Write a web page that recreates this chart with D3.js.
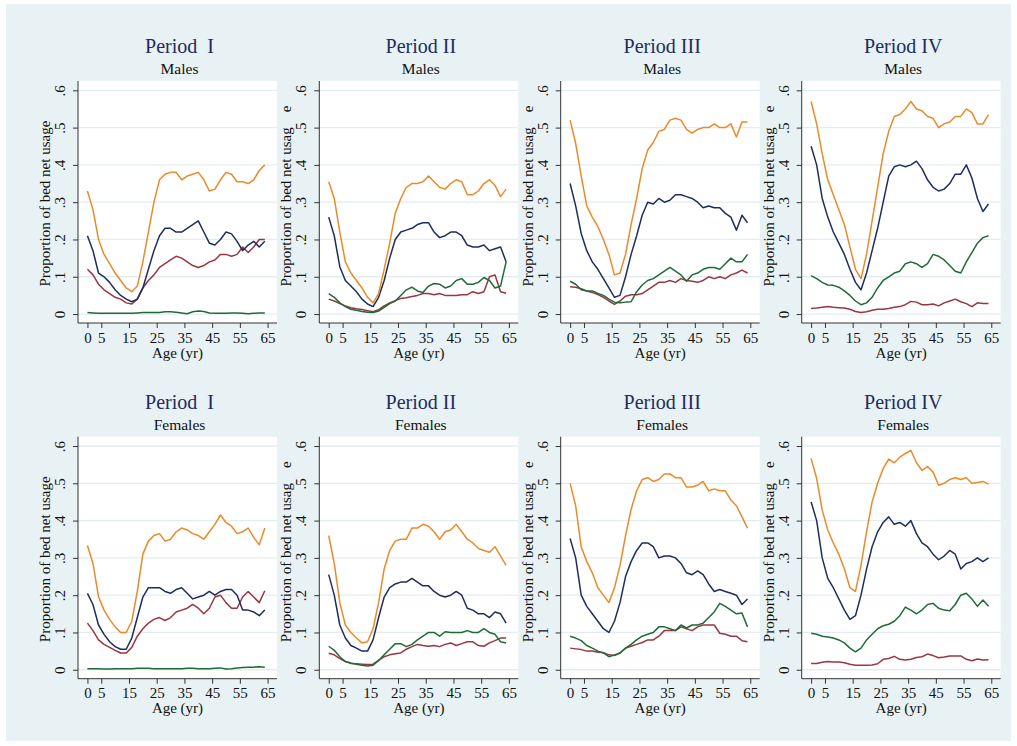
<!DOCTYPE html>
<html><head><meta charset="utf-8">
<script src="https://cdn.jsdelivr.net/npm/d3@7"></script>
<style>
body{margin:0;background:#fff}
svg{display:block}
</style>
</head><body>
<svg id="c" width="1017" height="746"></svg>
<script>
// ---------- data ----------
const ages = [0,2,4,6,8,10,12,14,16,18,20,22,24,26,28,30,32,34,36,38,40,42,44,46,48,50,52,54,56,58,60,62,64];
const xTicks = [0,5,15,25,35,45,55,65];
const yTicks = [0,0.1,0.2,0.3,0.4,0.5,0.6];
const yTickLabels = ["0",".1",".2",".3",".4",".5",".6"];
const periodTitles = ["Period  I","Period II","Period III","Period IV"];
const sexTitles = ["Males","Females"];
const yTitleFull = "Proportion of bed net usage";
const yTitleCut = "Proportion of bed net usag";
const xTitle = "Age (yr)";

// Males
const m1Orange = [.33,.28,.20,.16,.135,.11,.09,.07,.06,.075,.14,.22,.30,.36,.375,.38,.38,.36,.37,.375,.38,.36,.33,.335,.36,.38,.375,.355,.355,.35,.36,.385,.40];
const m1Navy   = [.21,.17,.11,.10,.085,.065,.05,.04,.033,.04,.07,.12,.17,.21,.23,.23,.22,.22,.23,.24,.25,.22,.19,.185,.20,.22,.215,.195,.17,.185,.195,.18,.195];
const m1Maroon = [.12,.105,.08,.065,.055,.045,.04,.03,.027,.04,.07,.09,.105,.125,.135,.145,.155,.15,.14,.13,.125,.13,.14,.145,.16,.16,.155,.16,.18,.165,.18,.20,.20];
const m1Green  = [.004,.003,.002,.002,.002,.002,.002,.002,.002,.003,.004,.004,.004,.004,.006,.006,.005,.003,.001,.006,.008,.007,.003,.002,.002,.002,.003,.003,.002,.001,.002,.003,.003];

const m2Orange = [.355,.31,.22,.14,.11,.09,.07,.045,.03,.055,.12,.19,.27,.31,.34,.35,.35,.355,.37,.355,.34,.335,.35,.36,.355,.32,.32,.33,.35,.36,.345,.315,.335];
const m2Navy   = [.26,.21,.127,.09,.075,.06,.04,.027,.02,.045,.09,.15,.20,.22,.225,.23,.24,.245,.245,.22,.205,.21,.22,.22,.21,.185,.18,.18,.185,.17,.175,.18,.14];
const m2Maroon = [.04,.035,.028,.022,.017,.014,.012,.009,.006,.012,.022,.03,.036,.042,.044,.047,.05,.055,.055,.052,.055,.05,.05,.05,.052,.052,.06,.055,.06,.10,.105,.06,.056];
const m2Green  = [.055,.045,.03,.02,.013,.01,.007,.005,.004,.008,.018,.028,.035,.05,.065,.072,.062,.058,.075,.082,.08,.07,.075,.09,.095,.08,.08,.085,.098,.09,.07,.075,.14];

const m3Orange = [.52,.458,.37,.29,.26,.235,.20,.16,.105,.11,.16,.24,.31,.39,.44,.46,.49,.495,.52,.525,.52,.495,.485,.495,.50,.50,.51,.50,.50,.51,.475,.515,.515];
const m3Navy   = [.35,.29,.216,.17,.14,.12,.095,.07,.045,.05,.10,.16,.21,.265,.30,.295,.31,.30,.305,.32,.32,.315,.31,.30,.285,.29,.285,.285,.27,.26,.225,.265,.245];
const m3Maroon = [.073,.072,.068,.062,.058,.052,.045,.035,.026,.035,.048,.052,.052,.055,.065,.075,.085,.085,.09,.085,.095,.09,.088,.085,.09,.10,.095,.10,.095,.105,.11,.118,.11];
const m3Green  = [.088,.08,.065,.062,.062,.055,.05,.04,.032,.03,.032,.033,.06,.078,.09,.095,.105,.115,.125,.115,.105,.088,.105,.11,.12,.125,.125,.12,.135,.15,.14,.14,.16];

const m4Orange = [.57,.51,.43,.36,.32,.28,.24,.18,.12,.095,.16,.25,.34,.43,.49,.53,.535,.55,.57,.55,.545,.53,.525,.50,.51,.515,.53,.53,.55,.54,.51,.51,.535];
const m4Navy   = [.45,.40,.31,.26,.22,.19,.16,.12,.085,.065,.11,.17,.23,.30,.37,.395,.40,.395,.40,.41,.39,.36,.34,.33,.335,.35,.375,.375,.40,.365,.31,.275,.295];
const m4Maroon = [.015,.016,.018,.02,.018,.017,.016,.013,.007,.004,.006,.01,.013,.013,.015,.018,.02,.025,.034,.032,.025,.025,.027,.022,.03,.035,.04,.033,.028,.02,.03,.028,.028];
const m4Green  = [.103,.095,.085,.078,.077,.072,.062,.05,.035,.025,.03,.045,.07,.09,.10,.11,.115,.135,.14,.135,.125,.135,.16,.155,.145,.13,.115,.11,.14,.165,.19,.205,.21];

// Females
const f1Orange = [.333,.285,.196,.16,.135,.115,.10,.10,.13,.21,.31,.345,.36,.365,.345,.35,.37,.38,.375,.365,.36,.35,.37,.39,.415,.395,.385,.365,.37,.38,.355,.335,.38];
const f1Navy   = [.205,.175,.12,.095,.075,.062,.055,.055,.085,.14,.195,.22,.22,.22,.21,.205,.215,.22,.205,.19,.195,.20,.21,.20,.21,.215,.215,.20,.16,.16,.155,.145,.16];
const f1Maroon = [.125,.105,.08,.068,.06,.052,.045,.045,.06,.09,.11,.125,.135,.14,.132,.14,.155,.16,.165,.175,.165,.15,.165,.195,.20,.18,.165,.165,.195,.21,.195,.18,.212];
const f1Green  = [.003,.003,.003,.002,.002,.003,.003,.003,.003,.004,.004,.004,.003,.003,.003,.003,.003,.003,.004,.004,.003,.003,.003,.004,.005,.002,.003,.005,.006,.007,.007,.008,.007];

const f2Orange = [.36,.285,.18,.12,.10,.085,.072,.075,.11,.18,.27,.32,.345,.35,.35,.38,.38,.39,.385,.37,.35,.37,.375,.39,.37,.35,.34,.325,.32,.315,.33,.305,.28];
const f2Navy   = [.255,.20,.12,.085,.065,.058,.05,.05,.08,.14,.195,.22,.23,.235,.235,.245,.235,.225,.225,.21,.20,.195,.20,.21,.20,.165,.16,.15,.15,.14,.155,.15,.125];
const f2Maroon = [.044,.04,.03,.022,.017,.016,.015,.014,.015,.025,.035,.04,.043,.045,.055,.062,.068,.065,.063,.065,.062,.068,.072,.065,.07,.075,.075,.065,.063,.072,.078,.085,.085];
const f2Green  = [.063,.052,.035,.022,.018,.015,.012,.01,.012,.025,.04,.055,.07,.07,.062,.068,.08,.09,.10,.10,.09,.102,.10,.10,.10,.105,.10,.10,.11,.10,.095,.075,.072];

const f3Orange = [.50,.44,.33,.29,.26,.22,.20,.18,.22,.28,.36,.43,.48,.51,.515,.505,.51,.525,.525,.515,.515,.49,.49,.495,.505,.48,.485,.48,.48,.455,.44,.41,.38];
const f3Navy   = [.352,.30,.20,.17,.15,.13,.11,.10,.13,.18,.25,.29,.32,.34,.34,.33,.30,.305,.305,.30,.285,.26,.255,.265,.255,.23,.21,.215,.21,.205,.20,.175,.19];
const f3Maroon = [.058,.056,.054,.05,.05,.047,.046,.04,.038,.045,.058,.063,.068,.073,.08,.08,.09,.105,.105,.105,.115,.11,.105,.115,.12,.12,.12,.098,.095,.09,.09,.078,.075];
const f3Green  = [.09,.085,.078,.065,.058,.05,.045,.035,.04,.045,.058,.068,.08,.09,.095,.10,.115,.115,.11,.105,.12,.112,.12,.12,.125,.14,.155,.178,.17,.16,.15,.152,.115];

const f4Orange = [.567,.513,.428,.375,.34,.31,.27,.22,.21,.28,.37,.45,.50,.54,.565,.555,.57,.58,.588,.555,.535,.545,.53,.495,.50,.51,.515,.51,.515,.50,.502,.505,.498];
const f4Navy   = [.45,.40,.30,.245,.22,.19,.16,.135,.145,.20,.27,.33,.37,.395,.41,.39,.395,.385,.40,.365,.34,.33,.31,.295,.305,.32,.31,.27,.285,.29,.30,.29,.30];
const f4Maroon = [.017,.017,.02,.022,.021,.021,.019,.015,.012,.012,.012,.013,.016,.028,.03,.036,.028,.026,.028,.033,.035,.042,.038,.032,.034,.037,.037,.037,.028,.024,.029,.026,.027];
const f4Green  = [.098,.095,.09,.088,.085,.08,.072,.058,.048,.058,.08,.095,.11,.118,.122,.13,.145,.168,.16,.15,.16,.175,.178,.165,.16,.158,.175,.20,.205,.19,.17,.187,.17];

const seriesColors = {maroon:"#993641", green:"#1f6b36", navy:"#1f2d5e", orange:"#ea8a2a"};

const panels = [
  {row:0,col:0,s:{maroon:m1Maroon,green:m1Green,navy:m1Navy,orange:m1Orange}},
  {row:0,col:1,s:{maroon:m2Maroon,green:m2Green,navy:m2Navy,orange:m2Orange}},
  {row:0,col:2,s:{maroon:m3Maroon,green:m3Green,navy:m3Navy,orange:m3Orange}},
  {row:0,col:3,s:{maroon:m4Maroon,green:m4Green,navy:m4Navy,orange:m4Orange}},
  {row:1,col:0,s:{maroon:f1Maroon,green:f1Green,navy:f1Navy,orange:f1Orange}},
  {row:1,col:1,s:{maroon:f2Maroon,green:f2Green,navy:f2Navy,orange:f2Orange}},
  {row:1,col:2,s:{maroon:f3Maroon,green:f3Green,navy:f3Navy,orange:f3Orange}},
  {row:1,col:3,s:{maroon:f4Maroon,green:f4Green,navy:f4Navy,orange:f4Orange}}
];

// ---------- layout ----------
const FONT = '"Liberation Serif", "Times New Roman", Times, serif';
const svg = d3.select("#c");
svg.append("rect").attr("x",6).attr("y",4).attr("width",1005).attr("height",737).attr("fill","#e8f1f3");

const colLeft = [78, 319.3, 560.7, 801.7];
const rowTop = [81, 436.7];
const plotW = 199, plotH = 242;
const x = d3.scaleLinear().domain([-3.4, 68.4]).range([0, plotW]);
const y = d3.scaleLinear().domain([-0.024, 0.625]).range([plotH, 0]);
const axisColor = "#333";

function styleText(sel, size, fill) {
  return sel.attr("font-family", FONT).style("font-family", FONT)
    .attr("font-weight","normal").style("font-weight","normal")
    .attr("font-size", size).style("font-size", size + "px").attr("fill", fill || "#111");
}

panels.forEach(p => {
  const g = svg.append("g").attr("transform", `translate(${colLeft[p.col]},${rowTop[p.row]})`);
  g.append("rect").attr("width", plotW).attr("height", plotH).attr("fill", "#fff");
  // grid
  g.selectAll("line.grid").data(yTicks).enter().append("line")
    .attr("x1",0).attr("x2",plotW).attr("y1",d=>y(d)).attr("y2",d=>y(d))
    .attr("stroke","#e3edf0").attr("stroke-width",1.3);
  // lines
  const line = d3.line().x((d,i)=>x(ages[i])).y(d=>y(d));
  ["maroon","green","navy","orange"].forEach(k => {
    g.append("path").datum(p.s[k]).attr("d", line).attr("fill","none")
      .attr("stroke", seriesColors[k]).attr("stroke-width",1.5).attr("stroke-linejoin","round");
  });
  // y axis
  const ya = d3.axisLeft(y).tickValues(yTicks).tickSize(5).tickFormat((d,i)=>yTickLabels[i]);
  const yg = g.append("g").call(ya).attr("font-family", FONT);
  yg.select(".domain").attr("d", `M0,0V${plotH}`).attr("stroke", axisColor);
  yg.selectAll(".tick line").attr("stroke", axisColor);
  styleText(yg.selectAll(".tick text").attr("x", null).attr("dy", null)
    .attr("transform","translate(-13,0) rotate(-90)")
    .attr("text-anchor","middle"), 15);
  // x axis
  const xa = d3.axisBottom(x).tickValues(xTicks).tickSize(5).tickFormat(d3.format("d"));
  const xg = g.append("g").attr("transform",`translate(0,${plotH})`).call(xa).attr("font-family", FONT);
  xg.select(".domain").attr("d", `M0,0H${plotW}`).attr("stroke", axisColor);
  xg.selectAll(".tick line").attr("stroke", axisColor);
  styleText(xg.selectAll(".tick text").attr("y", null).attr("dy", null).attr("transform","translate(0,19.6)"), 15);
  // x title
  styleText(g.append("text").attr("x", plotW/2).attr("y", plotH+34.5).attr("text-anchor","middle"), 15).text(xTitle);
  // y title
  const yt = styleText(g.append("text").attr("transform", `translate(-28,${plotH-36.5}) rotate(-90)`)
    .attr("text-anchor","start"), 15);
  if (p.col === 0) { yt.text(yTitleFull); }
  else { yt.text(yTitleCut); yt.append("tspan").attr("dx",15).text("e"); }
  // titles
  styleText(g.append("text").attr("x", plotW/2+2).attr("y", -28).attr("text-anchor","middle")
    .style("white-space","pre"), 20, "#1e2d5c").text(periodTitles[p.col]);
  styleText(g.append("text").attr("x", plotW/2+2).attr("y", -7).attr("text-anchor","middle"), 15.5).text(sexTitles[p.row]);
});
</script>
</body></html>
